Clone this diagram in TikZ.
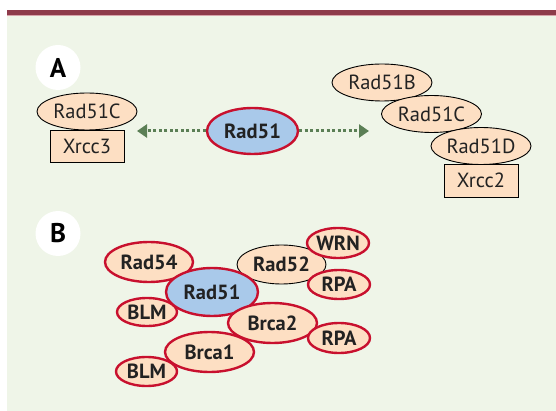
\documentclass[tikz,border=0pt]{standalone}
\usepackage{fontspec}
\setmainfont{PT Sans}
\usetikzlibrary{shapes.geometric,arrows.meta}
\definecolor{bgc}{HTML}{EFF5E8}
\definecolor{barc}{HTML}{8E3B4A}
\definecolor{barl}{HTML}{D7A3AA}
\definecolor{peach}{HTML}{FDDFC3}
\definecolor{redc}{HTML}{C8102E}
\definecolor{bluec}{HTML}{A9C9EA}
\definecolor{greenc}{HTML}{5B7F55}
\definecolor{txt}{HTML}{222222}
\begin{document}
\begin{tikzpicture}[x=1pt,y=-1pt,
  pa/.style={ellipse, draw=black, line width=0.9pt, fill=peach, inner sep=0pt, text=txt, font=\fontsize{20.5}{20}\selectfont},
  pr/.style={rectangle, draw=black, line width=0.9pt, fill=peach, inner sep=0pt, text=txt, font=\fontsize{20.5}{20}\selectfont},
  pb/.style={ellipse, draw=redc, line width=2.4pt, fill=peach, inner sep=0pt, text=txt, font=\bfseries\fontsize{20.5}{20}\selectfont},
  pk/.style={pb, draw=black, line width=0.9pt},
  hub/.style={pb, fill=bluec},
  lab/.style={circle, fill=white, inner sep=0pt, minimum size=45pt, text=black, font=\bfseries\fontsize{27}{27}\selectfont},
  arr/.style={greenc, line width=3pt, dash pattern=on 3pt off 2.5pt, -{Triangle[length=10pt,width=13pt]}}
]
\useasboundingbox (0,0) rectangle (556,411);
\fill[bgc] (7,15) rectangle (556,411);
\fill[barc] (7,10) rectangle (556,15);
\fill[barl] (7,15) rectangle (556,16.5);

% Panel A
\node[lab] (la) at (58,67.5) {A};
\node[pa, minimum width=100pt, minimum height=37pt] (c3) at (87,111.5) {Rad51C};
\node[pr, minimum width=74pt, minimum height=32pt] (x3) at (87,146) {Xrcc3};
\node[pa, minimum width=100pt, minimum height=37pt] (b2) at (382,82.5) {Rad51B};
\node[pa, minimum width=100pt, minimum height=37pt] (c2) at (431.5,114) {Rad51C};
\node[pa, minimum width=100pt, minimum height=37pt] (d2) at (481,146) {Rad51D};
\node[pr, minimum width=74pt, minimum height=33pt] (x2) at (481,180.5) {Xrcc2};
\node[hub, minimum width=91pt, minimum height=46pt] (ra) at (252.5,131) {Rad51};
\coordinate (lt) at (137,131);
\coordinate (rt) at (369,131);
\draw[arr] (ra.west) -- (lt);
\draw[arr] (ra.east) -- (rt);

% Panel B
\node[lab] (lb) at (58,233.5) {B};
\node[pb, minimum width=88pt, minimum height=40pt] (r54) at (149,262) {Rad54};
\node[pb, minimum width=60pt, minimum height=28pt] (blm1) at (147,312) {BLM};
\node[pb, minimum width=61pt, minimum height=29pt] (blm2) at (146.5,371.5) {BLM};
\node[pb, minimum width=89pt, minimum height=40pt] (br1) at (209.5,352) {Brca1};
\node[pk, minimum width=89pt, minimum height=39pt] (r52) at (281.5,264.5) {Rad52};
\node[hub, minimum width=92pt, minimum height=48pt] (rb) at (212,292) {Rad51};
\node[pb, minimum width=89pt, minimum height=40pt] (br2) at (272.5,323) {Brca2};
\node[pb, minimum width=62pt, minimum height=30pt] (wrn) at (338,243) {WRN};
\node[pb, minimum width=62pt, minimum height=29pt] (rpa1) at (339,284.5) {RPA};
\node[pb, minimum width=62pt, minimum height=30pt] (rpa2) at (339,338) {RPA};
\end{tikzpicture}
\end{document}
